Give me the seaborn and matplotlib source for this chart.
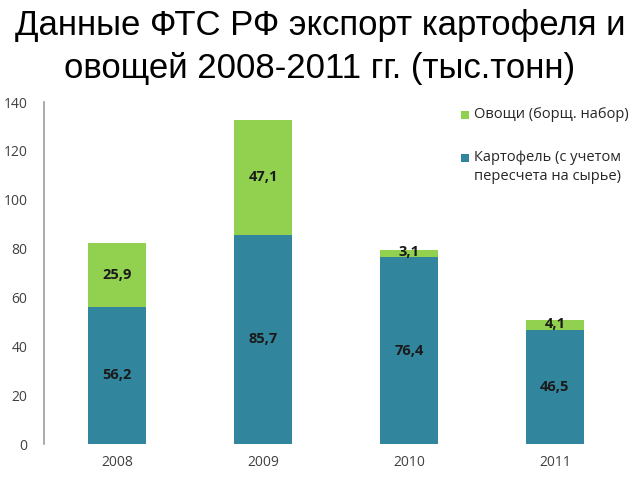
import matplotlib
matplotlib.use("Agg")
import matplotlib.pyplot as plt
import seaborn as sns
import pandas as pd
from matplotlib.patches import Rectangle

years = ["2008", "2009", "2010", "2011"]
potato = [56.2, 85.7, 76.4, 46.5]
veg = [25.9, 47.1, 3.1, 4.1]
title_lines = ["Данные ФТС РФ экспорт картофеля и", "овощей 2008-2011 гг. (тыс.тонн)"]
veg_label = "Овощи (борщ. набор)"
potato_label = "Картофель (с учетом\nпересчета на сырье)"

sns.set_theme(style="white")
plt.rcParams['font.family'] = ['Open Sans', 'DejaVu Sans']

green = "#92D050"
teal = "#31859C"

df = pd.DataFrame({"year": years, "potato": potato, "veg": veg})
df["total"] = df["potato"] + df["veg"]

W, H = 640, 480
fig = plt.figure(figsize=(6.4, 4.8), dpi=100)
ax = fig.add_axes([0.069, 0.075, 0.912, 0.7125])

sns.barplot(data=df, x="year", y="total", color=green, saturation=1, width=0.4, ax=ax,
            linewidth=0)
sns.barplot(data=df, x="year", y="potato", color=teal, saturation=1, width=0.4, ax=ax,
            linewidth=0)

for i, (p, v) in enumerate(zip(potato, veg)):
    ax.text(i, p / 2, f"{p:.1f}".replace(".", ","), ha="center", va="center",
            fontsize=10.5, fontweight="bold", color="#1a1a1a")
    ax.text(i, p + v / 2 + (0.6 if v < 6 else 0), f"{v:.1f}".replace(".", ","),
            ha="center", va="center",
            fontsize=10.5, fontweight="bold", color="#1a1a1a")

ax.set_ylim(0, 140)
ax.set_xlim(-0.5, 3.5)
ax.set_yticks(range(0, 141, 20))
ax.set_xlabel("")
ax.set_ylabel("")
ax.tick_params(axis="both", labelsize=10, colors="#404040", length=0)
ax.tick_params(axis="y", pad=12)
ax.tick_params(axis="x", pad=8)
for s in ["top", "right", "bottom"]:
    ax.spines[s].set_visible(False)
ax.spines["left"].set_color("#a0a0a0")

# legend drawn manually in figure pixel coordinates
def fx(x):
    return x / W

def fy(y):
    return 1 - y / H

for color, label, yc in [(green, veg_label, 115), (teal, potato_label, 158)]:
    fig.patches.append(Rectangle((fx(461), fy(yc + 4)), 8 / W, 8 / H, facecolor=color,
                                 edgecolor="none", transform=fig.transFigure, figure=fig))
    fig.text(fx(474), fy(yc - 8), label, ha="left", va="top", fontsize=10.5,
             color="#262626", linespacing=1.4)

fig.text(0.5, fy(35), title_lines[0], ha="center", va="baseline", fontsize=25, color="black",
         family=["Liberation Sans", "DejaVu Sans"])
fig.text(0.5, fy(78), title_lines[1], ha="center", va="baseline", fontsize=25, color="black",
         family=["Liberation Sans", "DejaVu Sans"])

fig.savefig("out.png", dpi=100)
